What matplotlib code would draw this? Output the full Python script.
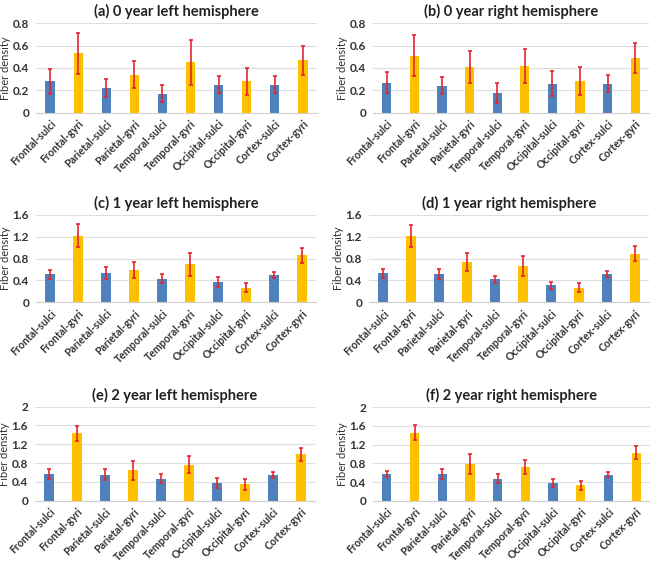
import numpy as np
import matplotlib
matplotlib.use('Agg')
import matplotlib.pyplot as plt

plt.rcParams['font.family'] = ['Lato', 'DejaVu Sans']

regions = ['Frontal-sulci', 'Frontal-gyri', 'Parietal-sulci', 'Parietal-gyri',
           'Temporal-sulci', 'Temporal-gyri', 'Occipital-sulci', 'Occipital-gyri',
           'Cortex-sulci', 'Cortex-gyri']

titles = ['(a) 0 year left hemisphere', '(b) 0 year right hemisphere',
          '(c) 1 year left hemisphere', '(d) 1 year right hemisphere',
          '(e) 2 year left hemisphere', '(f) 2 year right hemisphere']

# mean fiber density per region
mean_a = [0.28, 0.53, 0.22, 0.34, 0.17, 0.45, 0.25, 0.28, 0.25, 0.47]
mean_b = [0.27, 0.51, 0.24, 0.41, 0.18, 0.42, 0.26, 0.28, 0.26, 0.49]
mean_c = [0.51, 1.22, 0.53, 0.59, 0.43, 0.70, 0.37, 0.27, 0.50, 0.86]
mean_d = [0.53, 1.22, 0.52, 0.73, 0.42, 0.66, 0.31, 0.27, 0.51, 0.89]
mean_e = [0.57, 1.43, 0.55, 0.65, 0.47, 0.77, 0.38, 0.35, 0.55, 0.99]
mean_f = [0.57, 1.46, 0.58, 0.79, 0.47, 0.72, 0.38, 0.33, 0.56, 1.03]

# standard deviations (error bars)
err_a = [0.11, 0.18, 0.08, 0.12, 0.075, 0.20, 0.075, 0.12, 0.075, 0.13]
err_b = [0.095, 0.185, 0.075, 0.145, 0.09, 0.15, 0.115, 0.125, 0.078, 0.135]
err_c = [0.09, 0.21, 0.11, 0.147, 0.085, 0.21, 0.09, 0.09, 0.055, 0.14]
err_d = [0.085, 0.20, 0.09, 0.165, 0.07, 0.18, 0.068, 0.09, 0.055, 0.135]
err_e = [0.10, 0.16, 0.12, 0.20, 0.10, 0.177, 0.10, 0.12, 0.064, 0.135]
err_f = [0.07, 0.165, 0.107, 0.21, 0.10, 0.157, 0.085, 0.093, 0.057, 0.135]

means = [mean_a, mean_b, mean_c, mean_d, mean_e, mean_f]
errs = [err_a, err_b, err_c, err_d, err_e, err_f]
yticks = [[0, 0.2, 0.4, 0.6, 0.8], [0, 0.2, 0.4, 0.6, 0.8],
          [0, 0.4, 0.8, 1.2, 1.6], [0, 0.4, 0.8, 1.2, 1.6],
          [0, 0.4, 0.8, 1.2, 1.6, 2], [0, 0.4, 0.8, 1.2, 1.6, 2]]

W, H = 650, 562
# axes boxes in pixels: left, right, top, bottom
boxes = [(36, 317, 23.3, 112.7), (373, 649, 23.3, 112.7),
         (36, 316, 215, 302.3), (369, 649, 215, 302.3),
         (35, 315, 406.7, 500.7), (373, 650, 407.3, 500.7)]

blue = '#4F81BD'
yellow = '#FFC000'
colors = [blue if 'sulci' in r else yellow for r in regions]

fig = plt.figure(figsize=(W / 100, H / 100), dpi=100)

for i in range(6):
    l, r, t, b = boxes[i]
    ax = fig.add_axes([l / W, 1 - b / H, (r - l) / W, (b - t) / H])
    x = np.arange(len(regions))
    ax.bar(x, means[i], width=0.33, color=colors, zorder=2)
    ax.errorbar(x, means[i], yerr=errs[i], fmt='none', ecolor='#E3262E',
                elinewidth=1.2, capsize=1.5, capthick=1.2, zorder=3)
    ax.set_xlim(-0.5, len(regions) - 0.5)
    ax.set_ylim(0, yticks[i][-1])
    ax.set_yticks(yticks[i])
    ax.set_yticklabels([f'{v:g}' for v in yticks[i]], fontsize=8.5,
                       fontweight='bold', color='#333333')
    ax.set_xticks(x)
    ax.set_xticklabels(regions, rotation=45, ha='right', rotation_mode='anchor',
                       fontsize=7.6, fontweight='bold', color='#333333')
    ax.tick_params(axis='x', length=0, pad=4)
    ax.tick_params(axis='y', length=0, pad=5)
    ax.grid(axis='y', color='#DDDDDD', lw=0.8, zorder=0)
    for s in ['top', 'right', 'left']:
        ax.spines[s].set_visible(False)
    ax.spines['bottom'].set_color('#D0D0D0')
    ax.set_ylabel('Fiber density', fontsize=8, color='#333333', labelpad=1)
    ax.set_title(titles[i], fontsize=10.5, fontweight='bold', color='#222222', pad=5)

fig.savefig('out.png', dpi=100, facecolor='white')
